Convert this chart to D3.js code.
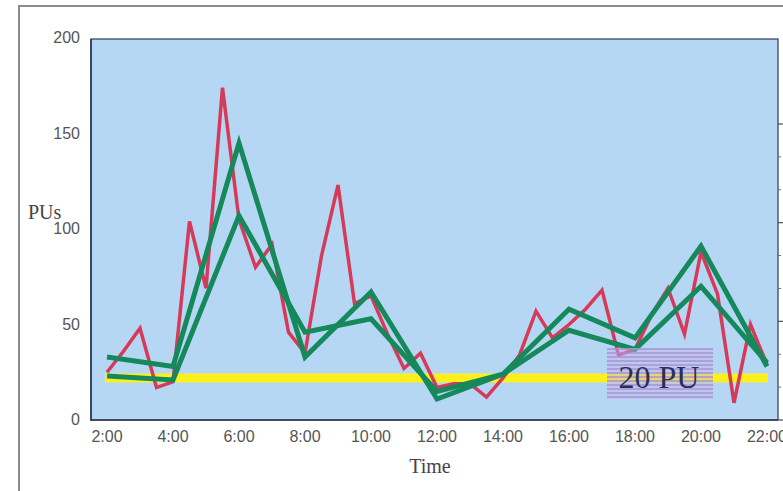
<!DOCTYPE html>
<html>
<head>
<meta charset="utf-8">
<script src="https://cdn.jsdelivr.net/npm/d3@7"></script>
<style>
  body { margin: 0; background: #fff; }
  svg { display: block; }
</style>
</head>
<body>
<div id="chart"></div>
<script>
// readings taken every half hour (red) and every two hours (green)
const redHours = [2, 2.5, 3, 3.5, 4, 4.5, 5, 5.5, 6, 6.5, 7, 7.5, 8, 8.5, 9, 9.5, 10, 10.5, 11, 11.5,
    12, 12.5, 13, 13.5, 14, 14.5, 15, 15.5, 16, 16.5, 17, 17.5, 18, 18.5, 19, 19.5, 20, 20.5, 21, 21.5, 22];
const redValues = [25, 36, 48, 17, 20, 104, 69, 174, 105, 80, 92, 46, 35, 86, 123, 61, 65, 45, 27, 35,
    17, 19, 19, 12, 22, 34, 57, 43, 50, 58, 68, 34, 37, 55, 69, 45, 88, 66, 9, 50, 29];
const greenHours = [2, 4, 6, 8, 10, 12, 14, 16, 18, 20, 22];
const greenA = [33, 28, 145, 33, 67, 11, 24, 58, 43, 91, 28];
const greenB = [23, 21, 107, 46, 53, 15, 24, 47, 37, 70, 30];
const limitValue = 22;
const limitLabel = "20 PU";
const yTicks = [0, 50, 100, 150, 200];
const xTicks = [2, 4, 6, 8, 10, 12, 14, 16, 18, 20, 22];
const xTickLabels = ["2:00", "4:00", "6:00", "8:00", "10:00", "12:00", "14:00", "16:00", "18:00", "20:00", "22:00"];

const svg = d3.select("#chart").append("svg").attr("width", 783).attr("height", 491);

// outer frame (runs off the page on the right and bottom)
svg.append("path").attr("d", "M19,491 V6 H783").attr("fill", "none").attr("stroke", "#8c8c8c").attr("stroke-width", 2);

const plot = { left: 91, right: 778, top: 39, bottom: 420 };
const x = d3.scaleLinear().domain([2, 22]).range([107, 767]);
const y = d3.scaleLinear().domain([0, 200]).range([420, 38]);
const y2 = d3.scaleLinear().domain([0, 3]).range([420, 124]);

svg.append("rect")
    .attr("x", plot.left).attr("y", plot.top)
    .attr("width", plot.right - plot.left).attr("height", plot.bottom - plot.top)
    .attr("fill", "#b6d7f4").attr("stroke", "#2f3a55").attr("stroke-width", 1.2);

// right axis stub, mostly cut off
const rAxis = svg.append("g").attr("transform", `translate(${plot.right},0)`);
rAxis.selectAll("line.major").data(d3.range(0, 4)).enter().append("line")
    .attr("x1", 0).attr("x2", 6).attr("y1", d => y2(d)).attr("y2", d => y2(d))
    .attr("stroke", "#4a4f60").attr("stroke-width", 1.2);
rAxis.selectAll("line.minor").data(d3.range(0, 3, 1 / 3).filter((d, i) => i % 3 !== 0)).enter().append("line")
    .attr("x1", 0).attr("x2", 3).attr("y1", d => y2(d)).attr("y2", d => y2(d))
    .attr("stroke", "#6a6f80").attr("stroke-width", 1);

// axes lines
svg.append("line").attr("x1", plot.left).attr("x2", plot.left).attr("y1", plot.top).attr("y2", plot.bottom + 1)
    .attr("stroke", "#2f3a55").attr("stroke-width", 1.6);
svg.append("line").attr("x1", plot.left).attr("x2", plot.right).attr("y1", plot.bottom).attr("y2", plot.bottom)
    .attr("stroke", "#2f3a55").attr("stroke-width", 1.6);

svg.selectAll("text.ytick").data(yTicks).enter().append("text")
    .attr("class", "ytick")
    .attr("x", 80).attr("y", d => y(d) + 5)
    .attr("text-anchor", "end")
    .attr("font-family", "Liberation Sans, Arial, sans-serif").attr("font-size", 16)
    .attr("fill", "#555")
    .text(d => d);

svg.selectAll("text.xtick").data(xTicks).enter().append("text")
    .attr("class", "xtick")
    .attr("x", d => x(d)).attr("y", 442)
    .attr("text-anchor", "middle")
    .attr("font-family", "Liberation Sans, Arial, sans-serif").attr("font-size", 16)
    .attr("fill", "#555")
    .text((d, i) => xTickLabels[i]);

svg.append("text").attr("x", 28).attr("y", 219)
    .attr("font-family", "Liberation Serif, Times New Roman, serif").attr("font-size", 20)
    .attr("fill", "#444").text("PUs");
svg.append("text").attr("x", 430).attr("y", 473).attr("text-anchor", "middle")
    .attr("font-family", "Liberation Serif, Times New Roman, serif").attr("font-size", 20)
    .attr("fill", "#444").text("Time");

// 20 PU limit
svg.append("line")
    .attr("x1", x(2) - 2).attr("x2", x(22) + 1)
    .attr("y1", y(limitValue)).attr("y2", y(limitValue))
    .attr("stroke", "#fbf01e").attr("stroke-width", 9);

const line = d3.line().x(d => x(d[0])).y(d => y(d[1]));

svg.append("path")
    .datum(redHours.map((h, i) => [h, redValues[i]]))
    .attr("d", line)
    .attr("fill", "none").attr("stroke", "#d63a5a").attr("stroke-width", 3.5)
    .attr("stroke-linejoin", "miter");

[greenA, greenB].forEach(vals => {
    svg.append("path")
        .datum(greenHours.map((h, i) => [h, vals[i]]))
        .attr("d", line)
        .attr("fill", "none").attr("stroke", "#15895c").attr("stroke-width", 5)
        .attr("stroke-linejoin", "miter");
});

// label box with hatched lavender fill
const defs = svg.append("defs");
const pat = defs.append("pattern").attr("id", "stripes")
    .attr("patternUnits", "userSpaceOnUse").attr("width", 6).attr("height", 4);
pat.append("rect").attr("width", 6).attr("height", 2).attr("fill", "#a58fd8").attr("opacity", 0.7);

svg.append("rect").attr("x", 607).attr("y", 348).attr("width", 106).attr("height", 51)
    .attr("fill", "#c6b4e6").attr("opacity", 0.45);
svg.append("rect").attr("x", 607).attr("y", 348).attr("width", 106).attr("height", 51)
    .attr("fill", "url(#stripes)");
svg.append("text").attr("x", 659).attr("y", 388).attr("text-anchor", "middle")
    .attr("font-family", "Liberation Serif, Times New Roman, serif").attr("font-size", 32)
    .attr("fill", "#2a2f55").text(limitLabel);
</script>
</body>
</html>
